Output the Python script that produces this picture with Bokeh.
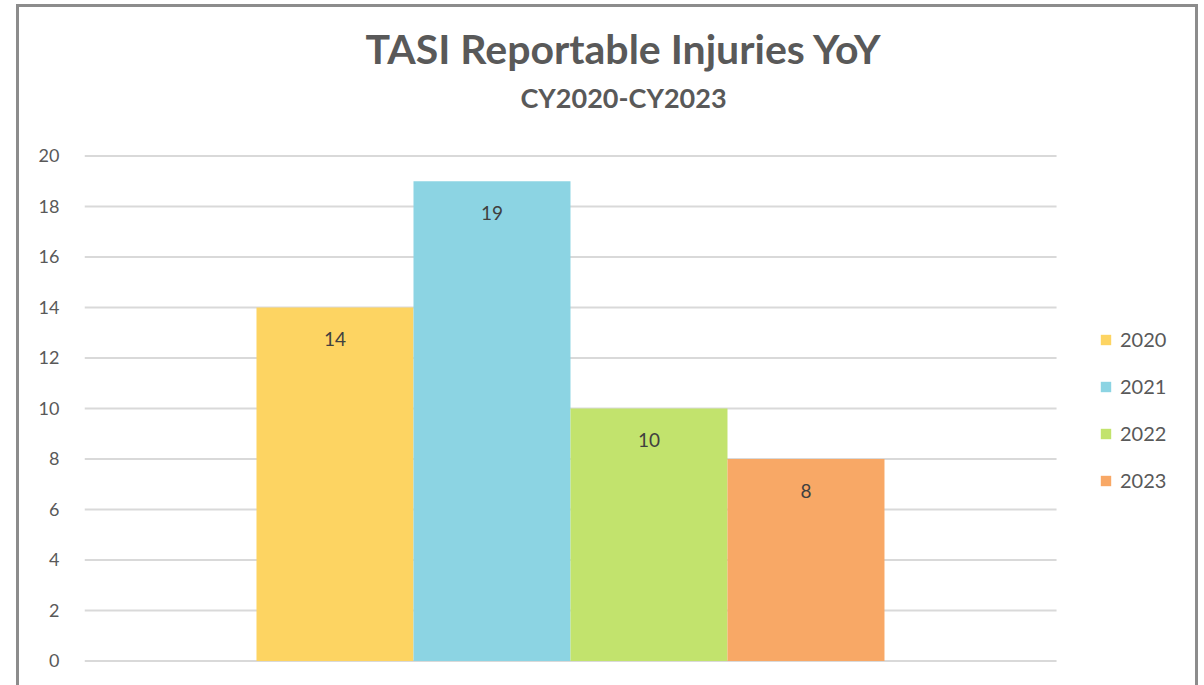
from bokeh.plotting import figure
from bokeh.models import (ColumnDataSource, Range1d, FixedTicker, Legend,
                          LegendItem, Title)
from bokeh.core.properties import value
from bokeh.embed import file_html
from bokeh.resources import INLINE

# ---- data ----
years = ["2020", "2021", "2022", "2023"]
injuries = [14, 19, 10, 8]
colors = ["#FDD462", "#8CD4E3", "#C2E36D", "#F8A866"]
y_ticks = [0, 2, 4, 6, 8, 10, 12, 14, 16, 18, 20]
title_text = "TASI Reportable Injuries YoY"
subtitle_text = "CY2020-CY2023"

FONT = "Lato"
GRAY = "#595959"

X_START, X_END = -1.5955, 5.481   # frame covers plot area + legend area
GRID_END = 4.596                   # gridlines stop before the legend area

p = figure(frame_width=1111, frame_height=544,
           output_backend="svg", toolbar_location=None,
           x_range=Range1d(X_START, X_END), y_range=Range1d(-0.06, 21.485),
           min_border_left=65, min_border_right=0,
           min_border_top=111, min_border_bottom=23,
           background_fill_color="white", border_fill_color="white",
           title=title_text)
p.margin = (4, 0, 0, 16)
p.outline_line_color = None
p.xaxis.visible = False
p.xgrid.visible = False
p.ygrid.visible = False

p.title.align = "left"
p.title.offset = 281
p.title.text_font = FONT
p.title.text_font_style = "bold"
p.title.text_font_size = "41px"
p.title.text_color = GRAY
p.title.standoff = 3

sub_title = Title(text=subtitle_text, align="left", offset=436, text_font=FONT,
                  text_font_style="bold", text_font_size="27px",
                  text_color=GRAY, standoff=9)
p.add_layout(sub_title, "above")

p.yaxis.ticker = FixedTicker(ticks=y_ticks)
p.yaxis.axis_line_color = None
p.yaxis.major_tick_line_color = None
p.yaxis.minor_tick_line_color = None
p.yaxis.major_label_text_font = FONT
p.yaxis.major_label_text_font_size = "18px"
p.yaxis.major_label_text_color = GRAY
p.yaxis.major_label_standoff = 19

# horizontal gridlines at the y ticks, limited to the plot area
p.segment(x0=[X_START] * len(y_ticks), x1=[GRID_END] * len(y_ticks),
          y0=y_ticks, y1=y_ticks, line_color="#d9d9d9", line_width=2)

src = ColumnDataSource(dict(
    x=list(range(len(years))),
    year=years,
    v=injuries,
    color=colors,
    label=[str(v) for v in injuries],
))

r = p.vbar(x="x", top="v", width=1.0, bottom=0, fill_color="color",
           line_color=None, source=src)

p.text(x="x", y="v", text="label", source=src, text_align="center",
       text_baseline="middle", y_offset=32, text_font=value(FONT),
       text_font_size="19px", text_color="#404040")

legend = Legend(items=[LegendItem(label=yr, renderers=[r], index=i)
                       for i, yr in enumerate(years)],
                location=(1015, 170), orientation="vertical",
                margin=0, padding=0, spacing=23,
                glyph_width=13, glyph_height=13, label_height=22,
                label_standoff=8,
                label_text_font=FONT, label_text_font_size="20px",
                label_text_color=GRAY,
                background_fill_alpha=0, border_line_color=None)
p.add_layout(legend, "center")

p.styles = {"border-left": "3px solid #8c8c8c",
            "border-right": "3px solid #8c8c8c",
            "border-top": "3px solid #8c8c8c"}

open("out.html", "w").write(file_html(p, INLINE))
